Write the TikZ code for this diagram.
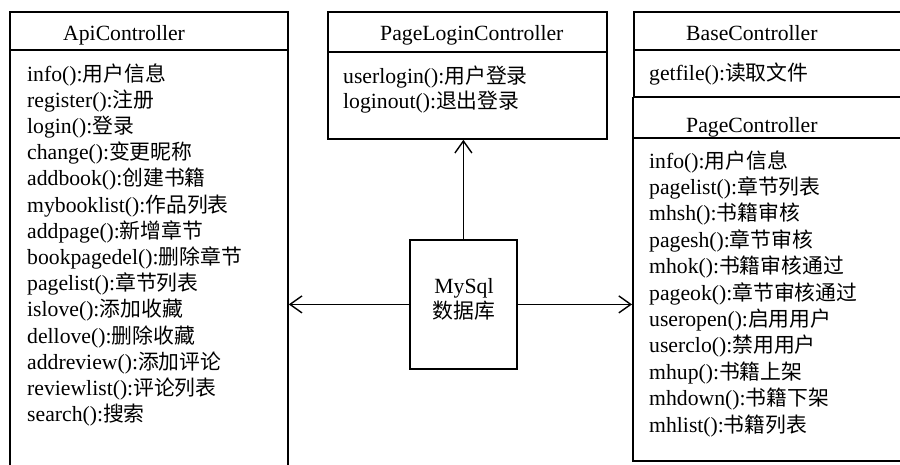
\documentclass[tikz,border=0pt]{standalone}
\usepackage{fontspec}
\setmainfont{Liberation Serif}
\newfontfamily\cjk[Scale=0.96]{Noto Sans CJK SC}
\usetikzlibrary{arrows.meta}
\newcommand\zh[1]{{\cjk #1}}
\newcommand\mth[2]{#1():\zh{#2}}

\begin{document}
\begin{tikzpicture}[x=1pt,y=-1pt,
  >={Straight Barb[length=12pt,width=17pt]},
  box/.style={draw,line width=1.8pt,inner sep=0pt,anchor=north west},
  rule/.style={line width=1.8pt},
  txt/.style={anchor=base west,inner sep=0pt,font=\fontsize{21.7}{26}\selectfont},
  link/.style={->,line width=1.4pt}]
  \useasboundingbox (0,0) rectangle (900,464);
  \clip (0,0) rectangle (900,464);

  % ApiController
  \node[box,minimum width=278pt,minimum height=470pt] (api) at (9,11) {};
  \draw[rule] (9,50) -- (287,50);
  \node[txt] (api-title) at (63,40) {ApiController};
  \foreach \m [count=\i from 0] in {\mth{info}{用户信息}, \mth{register}{注册},
      \mth{login}{登录}, \mth{change}{变更昵称}, \mth{addbook}{创建书籍},
      \mth{mybooklist}{作品列表}, \mth{addpage}{新增章节}, \mth{bookpagedel}{删除章节},
      \mth{pagelist}{章节列表}, \mth{islove}{添加收藏}, \mth{dellove}{删除收藏},
      \mth{addreview}{添加评论}, \mth{reviewlist}{评论列表}, \mth{search}{搜索}}
    \node[txt] (api-m\i) at (27,{81+26.2*\i}) {\m};

  % PageLoginController
  \node[box,minimum width=279pt,minimum height=127pt] (plogin) at (327,11) {};
  \draw[rule] (327,52) -- (606,52);
  \node[txt] (plogin-title) at (380,40) {PageLoginController};
  \node[txt] (plogin-m0) at (343,83) {\mth{userlogin}{用户登录}};
  \node[txt] (plogin-m1) at (343,108) {\mth{loginout}{退出登录}};

  % BaseController
  \node[box,minimum width=280pt,minimum height=84.5pt] (base) at (633,11) {};
  \draw[rule] (633,50) -- (913,50);
  \node[txt] (base-title) at (686,40) {BaseController};
  \node[txt] (base-m0) at (649,80) {\mth{getfile}{读取文件}};

  % PageController
  \node[box,minimum width=281pt,minimum height=363.5pt] (page) at (632,96.5) {};
  \draw[rule] (632,138) -- (913,138);
  \node[txt] (page-title) at (686,132) {PageController};
  \foreach \m [count=\i from 0] in {\mth{info}{用户信息}, \mth{pagelist}{章节列表},
      \mth{mhsh}{书籍审核}, \mth{pagesh}{章节审核}, \mth{mhok}{书籍审核通过},
      \mth{pageok}{章节审核通过}, \mth{useropen}{启用用户}, \mth{userclo}{禁用用户},
      \mth{mhup}{书籍上架}, \mth{mhdown}{书籍下架}, \mth{mhlist}{书籍列表}}
    \node[txt] (page-m\i) at (649,{168+26.4*\i}) {\m};

  % database
  \node[box,minimum width=107pt,minimum height=129pt] (db) at (409,239) {};
  \node[txt,anchor=base] (db-t0) at (464,293) {MySql};
  \node[txt,anchor=base] (db-t1) at (464,318) {\zh{数据库}};

  \draw[link] (db.north) -- (db.north |- plogin.south);
  \draw[link] (db.west) -- (db.west -| api.east);
  \draw[link] (db.east) -- (db.east -| page.west);
\end{tikzpicture}
\end{document}
